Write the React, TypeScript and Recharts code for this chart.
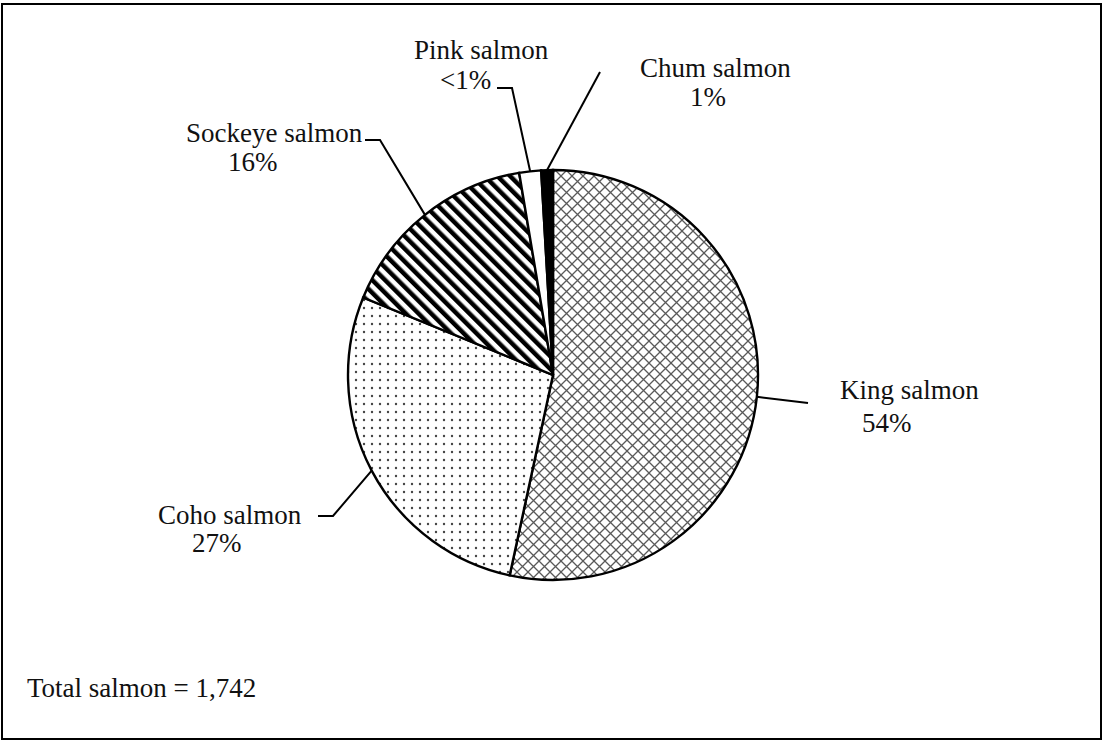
import React from 'react';
import { PieChart, Pie, Cell } from 'recharts';

// Salmon harvest by species (counts, total 1,742)
const species = ['King salmon', 'Coho salmon', 'Sockeye salmon', 'Pink salmon', 'Chum salmon'];
const counts = [930, 484, 282, 30, 16];
const pctLabels = ['54%', '27%', '16%', '<1%', '1%'];
const totalLabel = 'Total salmon = 1,742';

const fills = ['url(#kingHatch)', 'url(#cohoDots)', 'url(#sockeyeStripes)', '#ffffff', '#000000'];

// label placement: elbow of the leader, end of the leader, text lines (x, baseline)
const labelLayout: Record<string, any> = {
  'King salmon': { elbow: [808, 403], end: [808, 403], name: [840, 399], pct: [862, 432] },
  'Coho salmon': { elbow: [333, 516], end: [318, 516], name: [158, 524], pct: [192, 552] },
  'Sockeye salmon': { elbow: [380, 140], end: [365, 140], name: [186, 142], pct: [228, 171] },
  'Pink salmon': { elbow: [512, 88], end: [497, 88], name: [414, 59], pct: [440, 89] },
  'Chum salmon': { elbow: [600, 72], end: [600, 72], name: [640, 77], pct: [690, 106] },
};

const data = species.map((name, i) => ({ name, value: counts[i], pct: pctLabels[i] }));

const RAD = Math.PI / 180;
const FONT = '"Liberation Serif", "Times New Roman", serif';

const SliceLabel = (props: any) => {
  const { cx, cy, midAngle, outerRadius, payload, name } = props;
  const key = (payload && payload.name) || name;
  const lay = labelLayout[key];
  if (!lay) return null;
  const sx = cx + outerRadius * Math.cos(-midAngle * RAD);
  const sy = cy + outerRadius * Math.sin(-midAngle * RAD);
  const pts = `${sx},${sy} ${lay.elbow[0]},${lay.elbow[1]} ${lay.end[0]},${lay.end[1]}`;
  return (
    <g>
      <polyline points={pts} fill="none" stroke="#000" strokeWidth={2} />
      <text x={lay.name[0]} y={lay.name[1]} fontFamily={FONT} fontSize={27} fill="#111">
        {key}
      </text>
      <text x={lay.pct[0]} y={lay.pct[1]} fontFamily={FONT} fontSize={27} fill="#111">
        {payload ? payload.pct : ''}
      </text>
    </g>
  );
};

export default function App() {
  return (
    <div style={{ position: 'absolute', left: 0, top: 0, width: 1105, height: 742, background: '#fff' }}>
      <PieChart width={1105} height={742} margin={{ top: 0, right: 0, bottom: 0, left: 0 }}>
        <defs>
          <pattern id="kingHatch" width={11} height={11} patternUnits="userSpaceOnUse">
            <rect width={11} height={11} fill="#fff" />
            <path d="M0,0 L11,11 M11,0 L0,11" stroke="#5a5a5a" strokeWidth={1.3} />
          </pattern>
          <pattern id="cohoDots" width={8} height={8} patternUnits="userSpaceOnUse">
            <rect width={8} height={8} fill="#fff" />
            <circle cx={4} cy={4} r={1.2} fill="#444" />
          </pattern>
          <pattern id="sockeyeStripes" width={9} height={9} patternUnits="userSpaceOnUse" patternTransform="rotate(-45)">
            <rect width={9} height={9} fill="#fff" />
            <rect width={4.5} height={9} fill="#000" />
          </pattern>
        </defs>
        <rect x={2} y={4} width={1099} height={735} fill="none" stroke="#000" strokeWidth={2} />
        <Pie
          data={data}
          dataKey="value"
          nameKey="name"
          cx={553}
          cy={375}
          outerRadius={205}
          startAngle={90}
          endAngle={-270}
          stroke="#000"
          strokeWidth={2.4}
          labelLine={false}
          label={<SliceLabel />}
          isAnimationActive={false}
        >
          {data.map((d, i) => (
            <Cell key={d.name} fill={fills[i]} />
          ))}
        </Pie>
        <text x={27} y={697} fontFamily={FONT} fontSize={27} fill="#111">
          {totalLabel}
        </text>
      </PieChart>
    </div>
  );
}
